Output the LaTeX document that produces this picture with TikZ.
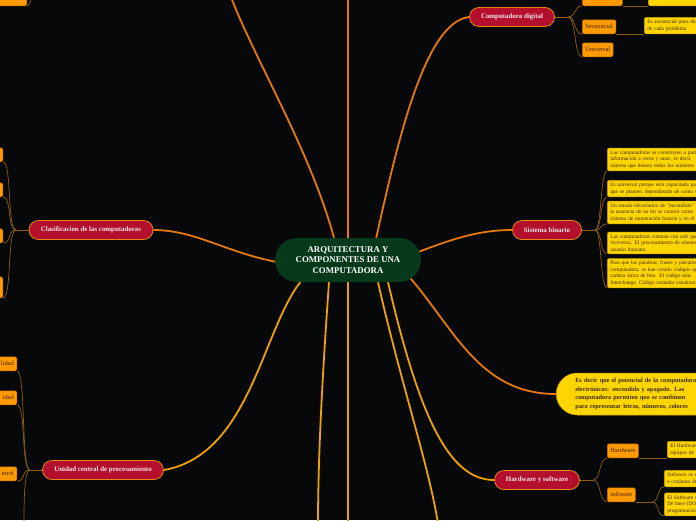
\documentclass[tikz,border=0pt]{standalone}
\usepackage{fontspec}
\setmainfont{Liberation Serif}
\usetikzlibrary{positioning,calc,backgrounds}

\definecolor{bgdark}{HTML}{07080A}
\definecolor{rootgreen}{HTML}{073A1B}
\definecolor{topicred}{HTML}{B4102E}
\definecolor{topicedge}{HTML}{E8860F}
\definecolor{topictext}{HTML}{F6E8EA}
\definecolor{subfill}{HTML}{FF9A00}
\definecolor{subedge}{HTML}{C46800}
\definecolor{subtext}{HTML}{3C2200}
\definecolor{notefill}{HTML}{FFD500}
\definecolor{noteedge}{HTML}{C89A00}
\definecolor{notetext}{HTML}{3A2A00}
\definecolor{branchorange}{HTML}{E8780C}
\definecolor{branchgold}{HTML}{EFA106}
\definecolor{twigbrown}{HTML}{8E5E12}

\newcommand{\jline}[1]{\makebox[96pt][s]{#1}}

\begin{document}
\begin{tikzpicture}[x=1pt,y=-1pt]
\tikzstyle{root}=[fill=rootgreen,text=white,rounded corners=22pt,minimum width=146pt,minimum height=44pt,align=center,font=\fontsize{8.8}{10.5}\selectfont\bfseries]
\tikzstyle{topic}=[draw=topicedge,line width=0.8pt,fill=topicred,text=topictext,rounded corners=9.5pt,minimum height=19pt,inner sep=0pt,font=\fontsize{6.9}{7.5}\selectfont\bfseries]
\tikzstyle{sub}=[draw=subedge,line width=0.5pt,fill=subfill,text=subtext,rounded corners=1.5pt,minimum height=14pt,inner xsep=3pt,inner ysep=1pt,font=\fontsize{6.4}{7.5}\selectfont]
\tikzstyle{note}=[draw=noteedge,line width=0.5pt,fill=notefill,text=notetext,rounded corners=1.5pt,align=left,inner xsep=3pt,inner ysep=2.5pt,text width=98pt,font=\fontsize{5.4}{6.4}\selectfont,anchor=south west]
\tikzstyle{pill}=[fill=notefill,draw=noteedge,line width=0.5pt,text=notetext,rounded corners=21pt,minimum height=42pt,align=left,inner xsep=19pt,text width=140pt,font=\fontsize{6.3}{8.6}\selectfont\bfseries,anchor=west]
\tikzstyle{mainbr}=[line width=1.8pt,draw=branchorange]
\tikzstyle{lowbr}=[line width=1.8pt,draw=branchgold]
\tikzstyle{twig}=[line width=0.7pt,draw=twigbrown]

\useasboundingbox (0,0) rectangle (696,520);

% centre
\node[root] (root) at (348,260) {ARQUITECTURA Y\\COMPONENTES DE UNA\\COMPUTADORA};

% main topics
\node[topic,minimum width=85pt] (digital) at (512,17) {Computadora digital};
\node[topic,minimum width=124pt] (clasif) at (91,230) {Clasificacion de las computadoras};
\node[topic,minimum width=69pt] (binario) at (547,230) {Sistema binario};
\node[topic,minimum width=121pt] (ucp) at (103,470) {Unidad central de procesamiento};
\node[topic,minimum width=85pt] (hwsw) at (537,480) {Hardware y software};
\node[pill] (potencial) at (556,394) {\makebox[142pt][s]{Es decir que el potencial de la computadora}\\
\makebox[142pt][s]{electrónicos: encendido y apagado. Las}\\
\makebox[142pt][s]{computadora permiten que se combinen}\\
\makebox[142pt][s]{para representar letras, números, colores}};

% computadora digital
\node[sub,minimum width=40pt,anchor=south west] (auto) at (582,6) {};
\node[note,text width=60pt,minimum height=16pt] (autonota) at (648,6) {};
\node[sub,anchor=south west] (secuencial) at (582,34) {Secuencial};
\node[note] (secnota) at (644,34) {Es secuencial pues depende\\de cada problema};
\node[sub,anchor=south west] (universal) at (582,57) {Universal};
\coordinate (jdig) at (568,17);

% sistema binario
\node[note] (bin1) at (607,171) {\jline{Las computadoras se construyen a partir}\\\jline{información a ceros y unos, es decir}\\\jline{sistema que denota todos los números}};
\node[note] (bin2) at (607,197) {Es universal porque está capacitada para\\que se plantee, dependiendo de como se};
\node[note] (bin3) at (607,224) {\jline{Un estado electrónico de "encendido"}\\\jline{la ausencia de un bit se conoce como}\\\jline{sistema de numeración binaria y en el}};
\node[note] (bin4) at (607,254) {Las computadoras cuentan con soft que\\viceversa. El procesamiento de números\\usuario humano.};
\node[note] (bin5) at (607,288) {\jline{Para que las palabras, frases y párrafos}\\\jline{computadora, se han creado códigos que}\\\jline{cadena única de bits. El código más}\\\jline{Interchange, Código estándar estadounidense}};
\coordinate (jbin) at (595,230);

% hardware y software
\node[sub,anchor=south west] (hardware) at (607,458) {Hardware};
\node[note,text width=40pt] (hwnota) at (667,458) {El Hardware es\\equipos de la};
\node[sub,anchor=south west] (software) at (607,502) {software};
\node[note,text width=40pt] (swnota1) at (664,487) {Software es el\\e conjunto de};
\node[note,text width=40pt] (swnota2) at (664,516) {El Software se\\De base (DOS\\programación};
\coordinate (jhw) at (593,480);
\coordinate (jsw) at (652,502);

% clasificacion
\node[sub,anchor=south east,minimum width=40pt] (clas1) at (3,162) {};
\node[sub,anchor=south east,minimum width=40pt] (clas2) at (3,197) {};
\node[sub,anchor=south east,minimum width=40pt] (clas3) at (3,243) {};
\node[sub,anchor=south east,minimum width=40pt,minimum height=21pt] (clas4) at (3,298) {};
\coordinate (jclas) at (16,230);

% unidad central
\node[sub,anchor=south east,text width=34pt,align=right] (ucp1) at (17,371) {lidad};
\node[sub,anchor=south east,text width=34pt,align=right] (ucp2) at (17,405) {idad};
\node[sub,anchor=south east,text width=34pt,align=right] (ucp3) at (17,481) {ntrol};
\coordinate (jucp) at (30,470);
\coordinate (ucpdown) at (24,524);

% top left leftover
\node[sub,anchor=south east,minimum width=40pt] (topleftbox) at (27,6) {};
\coordinate (topleftend) at (32,-4);

% free ends at the page border
\coordinate (ttop) at (231,-3);
\coordinate (tmid) at (348,-3);
\coordinate (bleft) at (318,524);
\coordinate (bmid) at (348,524);
\coordinate (bright) at (438,524);

\begin{scope}[on background layer]
\fill[bgdark] (0,0) rectangle (696,520);
% main branches
\draw[mainbr] ($(root.north)+(-14,0)$) .. controls (310,150) and (255,60) .. (ttop);
\draw[mainbr] (root.north) -- (tmid);
\draw[mainbr] ($(root.north)+(28,1)$) .. controls (398,140) and (425,22) .. (digital.west);
\draw[mainbr] ($(root.west)+(2,2)$) .. controls (225,252) and (195,230) .. (clasif.east);
\draw[mainbr] ($(root.east)+(-3,-8)$) .. controls (455,238) and (480,230) .. (binario.west);
\draw[mainbr] ($(root.east)+(-11,18)$) .. controls (455,330) and (480,394) .. (potencial.west);
\draw[lowbr] ($(root.south)+(40,0)$) .. controls (420,420) and (450,480) .. (hwsw.west);
\draw[lowbr] ($(root.south)+(30,0)$) .. controls (400,380) and (430,470) .. (bright);
\draw[lowbr] (root.south) -- (bmid);
\draw[lowbr] ($(root.south)+(-19,0)$) .. controls (322,380) and (318,460) .. (bleft);
\draw[lowbr] ($(root.south)+(-47,-1)$) .. controls (262,330) and (250,455) .. (ucp.east);
% twigs
\draw[twig] (digital.east) -- (jdig);
\foreach \c in {auto,secuencial,universal}
  \draw[twig] (jdig) .. controls +(8,0) and +(-8,0) .. (\c.south west);
\draw[twig] (auto.south east) -- (autonota.south west);
\draw[twig] (secuencial.south east) -- (secnota.south west);
\draw[twig] (binario.east) -- (jbin);
\foreach \c in {bin1,bin2,bin3,bin4,bin5}
  \draw[twig] (jbin) .. controls +(7,0) and +(-7,0) .. (\c.south west);
\draw[twig] (hwsw.east) -- (jhw);
\foreach \c in {hardware,software}
  \draw[twig] (jhw) .. controls +(8,0) and +(-8,0) .. (\c.south west);
\draw[twig] (hardware.south east) -- (hwnota.south west);
\draw[twig] (software.south east) -- (jsw);
\foreach \c in {swnota1,swnota2}
  \draw[twig] (jsw) .. controls +(7,0) and +(-7,0) .. (\c.south west);
\draw[twig] (clasif.west) -- (jclas);
\foreach \c in {clas1,clas2,clas3,clas4}
  \draw[twig] (jclas) .. controls +(-9,0) and +(9,0) .. (\c.south east);
\draw[twig] (ucp.west) -- (jucp);
\foreach \c in {ucp1,ucp2,ucp3}
  \draw[twig] (jucp) .. controls +(-9,0) and +(9,0) .. (\c.south east);
\draw[twig] (jucp) .. controls +(-6,0) and +(0,-20) .. (ucpdown);
\draw[twig] (topleftbox.south east) .. controls +(3,0) and +(-1,3) .. (topleftend);
\end{scope}
\end{tikzpicture}
\end{document}
